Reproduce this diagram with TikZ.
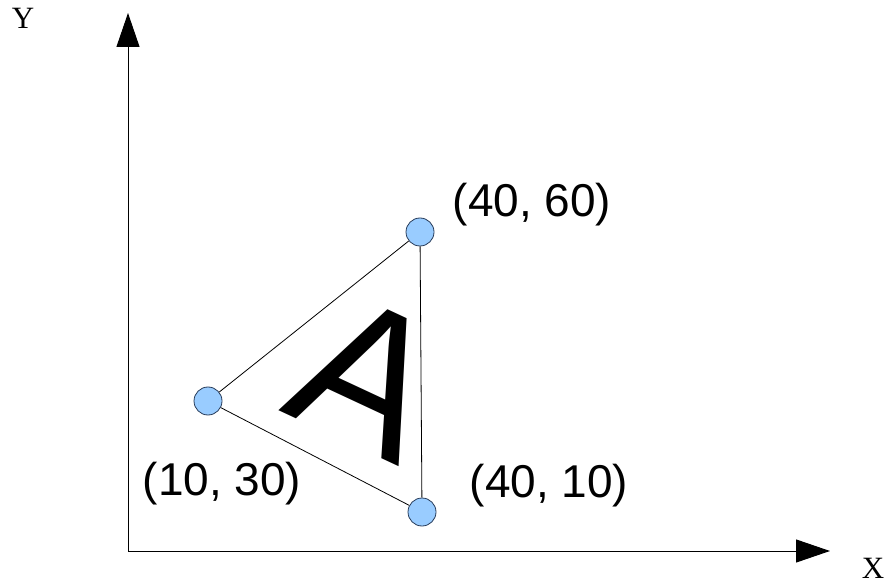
\documentclass[tikz,border=0pt]{standalone}
\usepackage{fontspec}
\setmainfont{Liberation Serif}
\setsansfont{Liberation Sans}
\usepackage{tikz}
\usetikzlibrary{arrows.meta,positioning}

\definecolor{ptfill}{RGB}{153,204,255}
\definecolor{ptline}{RGB}{40,60,90}

\begin{document}
\begin{tikzpicture}[
    x=1pt, y=1pt,
    axis/.style={line width=1pt, -{Triangle[length=34pt, width=23pt]}},
    pt/.style={circle, draw=ptline, line width=0.8pt, fill=ptfill, minimum size=28pt, inner sep=0pt},
    edge/.style={line width=0.8pt},
    coord/.style={font=\sffamily\fontsize{46}{46}\selectfont, anchor=base, inner sep=0pt},
    axlbl/.style={font=\fontsize{31}{31}\selectfont, anchor=base, inner sep=0pt},
  ]
    \useasboundingbox (0,0) rectangle (888,584);
    % axes
    \coordinate (o) at (128,33);
    \coordinate (ytip) at (128,571);
    \coordinate (xtip) at (830,33);
    \draw[axis] (o) -- (ytip);
    \draw[axis] (o) -- (xtip);
    \node[axlbl] (ylbl) at (23,555) {Y};
    \node[axlbl] (xlbl) at (873,6) {X};
    % triangle
    \node[font=\sffamily\fontsize{200}{200}\selectfont, inner sep=0pt, rotate=-25] (a) at (368,208) {A};
    \node[pt] (p1) at (420,352) {};
    \node[pt] (p2) at (208,183) {};
    \node[pt] (p3) at (422,72) {};
    \draw[edge] (p1) -- (p2);
    \draw[edge] (p2) -- (p3);
    \draw[edge] (p3) -- (p1);
    \node[coord] (l1) at (532,367) {(40, 60)};
    \node[coord] (l2) at (222,89) {(10, 30)};
    \node[coord] (l3) at (549,87) {(40, 10)};
  \end{tikzpicture}
\end{document}
